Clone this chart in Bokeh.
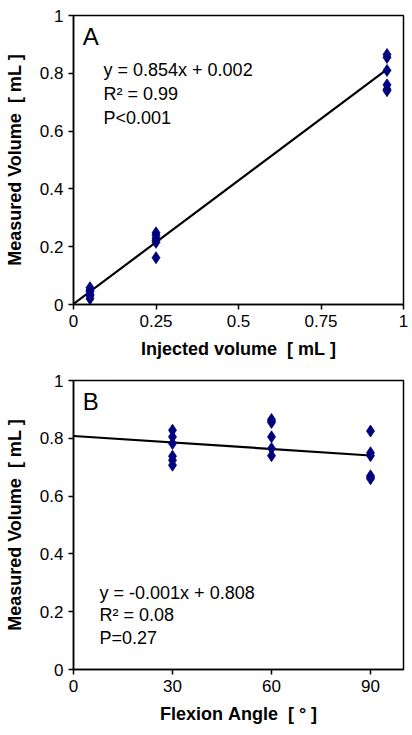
import numpy as np
from bokeh.plotting import figure
from bokeh.layouts import column
from bokeh.models import FixedTicker, Label
from bokeh.embed import file_html
from bokeh.resources import INLINE

# ---------------- data ----------------
# Panel A: injected vs measured volume
a_x = [0.05] * 6 + [0.25] * 6 + [0.95] * 6
a_y = [0.02, 0.03, 0.035, 0.045, 0.05, 0.058,
       0.162, 0.215, 0.222, 0.23, 0.24, 0.248,
       0.74, 0.745, 0.76, 0.81, 0.855, 0.865]
a_slope, a_intercept = 0.854, 0.002
a_ticks_x = [0, 0.25, 0.5, 0.75, 1]
a_labels_x = ["0", "0.25", "0.5", "0.75", "1"]

# Panel B: flexion angle vs measured volume
b_x = [30] * 6 + [60] * 6 + [90] * 6
b_y = [0.707, 0.724, 0.738, 0.782, 0.805, 0.828,
       0.74, 0.765, 0.805, 0.855, 0.86, 0.865,
       0.66, 0.665, 0.67, 0.74, 0.75, 0.825]
b_slope, b_intercept = -0.00075, 0.808
b_ticks_x = [0, 30, 60, 90]
b_labels_x = ["0", "30", "60", "90"]

y_ticks = [0, 0.2, 0.4, 0.6, 0.8, 1]
y_labels = ["0", "0.2", "0.4", "0.6", "0.8", "1"]

a_text = ["y = 0.854x + 0.002", "R\u00b2 = 0.99", "P<0.001"]
b_text = ["y = -0.001x + 0.808", "R\u00b2 = 0.08", "P=0.27"]

NB = "\u00a0"
FONT = "Liberation Sans"
NAVY = "#00007f"


def make_panel(xs, ys, slope, intercept, xr, ticks_x, labels_x, xlabel,
               letter, texts, text_x, text_y0, text_dy, height, top, bottom):
    p = figure(width=408, height=height, x_range=xr, y_range=(0, 1),
               output_backend="svg", toolbar_location=None,
               min_border_left=73, min_border_right=5,
               min_border_top=top, min_border_bottom=bottom)
    p.grid.visible = False
    p.outline_line_color = "black"
    p.outline_line_width = 1.5
    p.background_fill_color = "white"
    p.border_fill_color = "white"

    for ax in (p.xaxis[0], p.yaxis[0]):
        ax.axis_line_color = "black"
        ax.axis_line_width = 1.5
        ax.major_tick_line_color = "black"
        ax.major_tick_line_width = 1.5
        ax.major_tick_out = 5
        ax.major_tick_in = 0
        ax.minor_tick_line_color = None
        ax.major_label_text_font = FONT
        ax.major_label_text_font_size = "17px"
        ax.major_label_text_color = "black"
        ax.axis_label_text_font = FONT
        ax.axis_label_text_font_size = "18px"
        ax.axis_label_text_font_style = "bold"
        ax.axis_label_text_color = "black"
        ax.major_label_standoff = 5

    p.xaxis.ticker = FixedTicker(ticks=ticks_x)
    p.xaxis.major_label_overrides = {t: l for t, l in zip(ticks_x, labels_x)}
    p.xaxis.axis_label = xlabel
    p.xaxis.axis_label_standoff = 9

    p.yaxis.ticker = FixedTicker(ticks=y_ticks)
    p.yaxis.major_label_overrides = {t: l for t, l in zip(y_ticks, y_labels)}
    p.yaxis.axis_label = "Measured" + NB + "Volume" + NB * 2 + "[" + NB + "mL" + NB + "]"
    p.yaxis.axis_label_standoff = 12

    # regression line from x=0 to the largest x value
    lx = np.array([0.0, max(xs)])
    p.line(lx, slope * lx + intercept, line_color="black", line_width=2.2)

    p.scatter(xs, ys, marker="diamond", size=12, fill_color=NAVY,
              line_color=NAVY, line_width=0.8)

    span = xr[1] - xr[0]
    p.add_layout(Label(x=xr[0] + 0.028 * span, y=0.975, text=letter,
                       text_font=FONT, text_font_size="24px",
                       text_baseline="top", text_color="black"))
    for i, t in enumerate(texts):
        p.add_layout(Label(x=text_x, y=text_y0 - i * text_dy, text=t,
                           text_font=FONT, text_font_size="18px",
                           text_baseline="middle", text_color="black"))
    return p


pa = make_panel(a_x, a_y, a_slope, a_intercept, (0, 1), a_ticks_x, a_labels_x,
                "Injected" + NB + "volume" + NB * 2 + "[" + NB + "mL" + NB + "]",
                "A", a_text, 0.091, 0.81, 0.083, height=372, top=15, bottom=68)
pb = make_panel(b_x, b_y, b_slope, b_intercept, (0, 100), b_ticks_x, b_labels_x,
                "Flexion" + NB + "Angle" + NB * 2 + "[" + NB + "\u00b0" + NB + "]",
                "B", b_text, 7.9, 0.264, 0.077, height=361, top=8, bottom=64)

layout = column(pa, pb, spacing=0)
open("out.html", "w").write(file_html(layout, INLINE))
